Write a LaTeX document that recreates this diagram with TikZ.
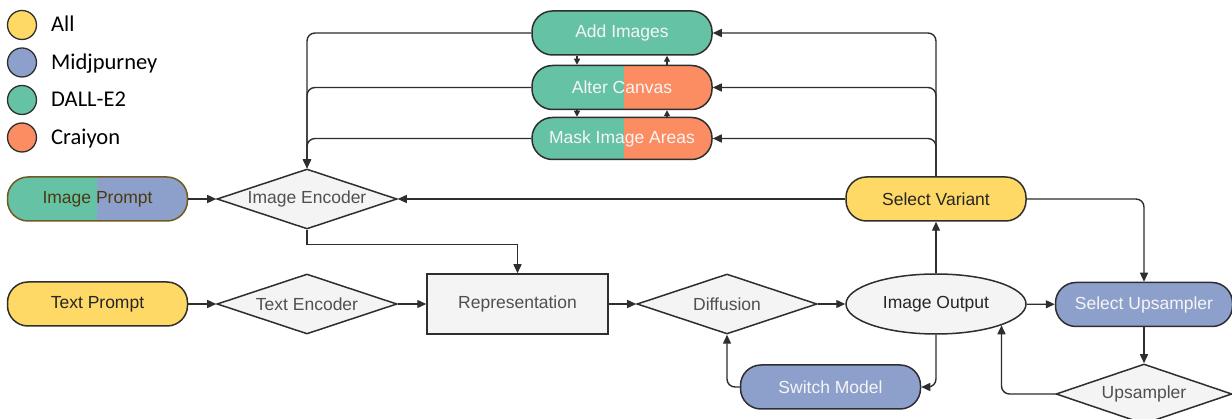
\documentclass[tikz,border=0pt]{standalone}
\usepackage{fontspec}
\usetikzlibrary{shapes.geometric,arrows.meta}
\newfontfamily\dfont{Liberation Sans}
\newfontfamily\lfont{Carlito}
\definecolor{cgreen}{HTML}{66C2A5}
\definecolor{corange}{HTML}{FC8D62}
\definecolor{cblue}{HTML}{8DA0CB}
\definecolor{cyellow}{HTML}{FFD966}
\definecolor{gbg}{HTML}{F4F4F4}
\definecolor{lc}{HTML}{2E2E2E}
\definecolor{gtx}{HTML}{505050}
\definecolor{brn}{HTML}{4A3A10}
\definecolor{brnb}{HTML}{6F5A20}
\tikzset{
  lbl/.style={font=\dfont\fontsize{17.5}{20}\selectfont},
  pill/.style={draw=lc, line width=1.5pt, rounded corners=20.5pt, minimum width=180pt,
    minimum height=44pt, inner sep=0pt, lbl},
  wpill/.style={pill, text=white!96!black},
  ypill/.style={pill, fill=cyellow, text=black!85},
  dia/.style={diamond, draw=lc, fill=gbg, line width=1.5pt, minimum width=180pt,
    minimum height=60pt, inner sep=0pt, lbl, text=gtx},
  split/.style n args={3}{path picture={
    \fill[#1, sharp corners] (path picture bounding box.south west) rectangle ([xshift=#3]path picture bounding box.north);
    \fill[#2, sharp corners] ([xshift=#3]path picture bounding box.south) rectangle (path picture bounding box.north east);}},
  conn/.style={draw=lc, line width=1.4pt, rounded corners=8pt, -{Triangle[length=9pt,width=8pt]}},
  sconn/.style={draw=lc, line width=1.3pt, -{Triangle[length=6pt,width=6pt]}},
  legc/.style={circle, draw=lc, line width=1.3pt, minimum size=29pt, inner sep=0pt},
  legt/.style={anchor=base west, inner sep=0pt, font=\lfont\fontsize{22.5}{26}\selectfont, text=black},
}
\begin{document}
\begin{tikzpicture}[x=1pt,y=-1pt]
\useasboundingbox[fill=white] (0,0) rectangle (1232,419);
% legend
\node[legc, fill=cyellow] (c1) at (22,25) {};
\node[legc, fill=cblue] (c2) at (22,62.5) {};
\node[legc, fill=cgreen] (c3) at (22,100) {};
\node[legc, fill=corange] (c4) at (22,137.5) {};
\node[legt] (l1) at (51,32) {All};
\node[legt] (l2) at (51,69.5) {Midjpurney};
\node[legt] (l3) at (51,107) {DALL-E2};
\node[legt] (l4) at (51,144.5) {Craiyon};
% top pills
\node[wpill, fill=cgreen] (ai) at (622,33) {Add Images};
\node[wpill, split={cgreen}{corange}{2pt}] (ac) at (622,87.5) {Alter Canvas};
\node[wpill, split={cgreen}{corange}{2pt}, minimum height=42pt] (mi) at (622,138.5) {Mask Image Areas};
% left column
\node[pill, draw=brnb, text=brn, split={cgreen}{cblue}{-1pt}] (ip) at (97.5,199) {Image Prompt};
\node[ypill] (tp) at (97.5,304) {Text Prompt};
\node[dia] (ie) at (307,199) {\makebox[0pt]{Image Encoder}};
\node[dia] (te) at (307,304) {\makebox[0pt]{Text Encoder}};
\node[draw=lc, fill=gbg, line width=1.5pt, minimum width=181pt, minimum height=60pt,
  inner sep=0pt, lbl, text=gtx] (rep) at (517.5,304) {Representation};
\node[dia] (dif) at (727,304) {\makebox[0pt]{Diffusion}};
\node[ellipse, draw=lc, fill=gbg, line width=1.5pt, minimum width=180pt, minimum height=60pt,
  inner sep=0pt, lbl, text=black!85] (io) at (936,304) {\makebox[0pt]{Image Output}};
\node[ypill] (sv) at (936,199) {Select Variant};
\node[wpill, fill=cblue, minimum width=177pt] (su) at (1144,304.5) {Select Upsampler};
\node[dia, minimum width=176pt] (up) at (1144,394) {\makebox[0pt]{Upsampler}};
\node[wpill, fill=cblue] (sm) at (830.5,387) {Switch Model};
% connectors
\draw[conn] (ip) -- (ie);
\draw[conn] (tp) -- (te);
\draw[conn] (te) -- (rep);
\draw[conn, sharp corners] (ie.south) -- ++(0,15) -| (rep.north);
\draw[conn] (rep) -- (dif);
\draw[conn] (dif) -- (io);
\draw[conn] (io) -- (su);
\draw[conn] (io) -- (sv);
\draw[conn] (sv) -- (ie);
\draw[conn] (sv.east) -| (su.north);
\draw[conn] (su) -- (up);
\draw[conn] (up.west) -| (io.-18);
\draw[conn] (io.south) |- (sm.east);
\draw[conn] (sm.west) -| (dif.south);
\draw[conn] (sv.north) |- (ai.east);
\draw[conn] (sv.north) |- (ac.east);
\draw[conn] (sv.north) |- (mi.east);
\draw[conn] (ai.west) -| (ie.north);
\draw[conn] (ac.west) -| (ie.north);
\draw[conn] (mi.west) -| (ie.north);
\draw[sconn] ([xshift=-45pt]ai.south) -- ([xshift=-45pt]ac.north);
\draw[sconn] ([xshift=45pt]ac.north) -- ([xshift=45pt]ai.south);
\draw[sconn] ([xshift=-45pt]ac.south) -- ([xshift=-45pt]mi.north);
\draw[sconn] ([xshift=45pt]mi.north) -- ([xshift=45pt]ac.south);
\end{tikzpicture}
\end{document}
